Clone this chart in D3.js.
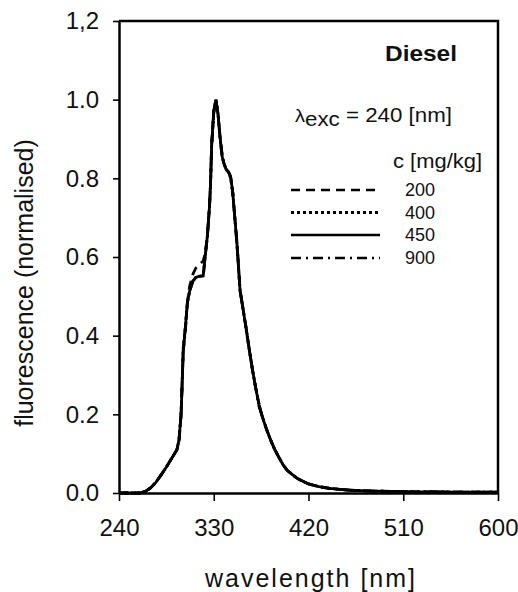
<!DOCTYPE html>
<html>
<head>
<meta charset="utf-8">
<script src="https://cdn.jsdelivr.net/npm/d3@7"></script>
<style>
    body { margin: 0; background: #fff; }
    text { font-family: "Liberation Sans", Arial, sans-serif; fill: #111; }
</style>
</head>
<body>
<script>
// emission spectra, diesel, excitation 240 nm
const wavelength = [240, 250, 260, 265, 270, 275, 280, 285, 290, 295,
    297, 299, 300, 301, 303, 305, 307, 310, 313, 316,
    320, 322, 324, 326, 327, 328, 330, 332, 334, 336,
    338, 340, 342, 344, 346, 348, 350, 352, 355, 358,
    361, 364, 367, 370, 373, 376, 380, 384, 388, 392,
    396, 400, 405, 410, 420, 430, 440, 450, 460, 480,
    500, 520, 540, 560, 580, 600];

const c200 = [0, 0, 0, 0.004, 0.013, 0.027, 0.046, 0.066, 0.088, 0.110,
    0.135, 0.20, 0.28, 0.36, 0.42, 0.485, 0.524, 0.555, 0.572, 0.580,
    0.590, 0.610, 0.655, 0.73, 0.79, 0.885, 0.97, 1.0, 0.965, 0.905,
    0.855, 0.835, 0.822, 0.816, 0.805, 0.765, 0.70, 0.635, 0.515, 0.465,
    0.415, 0.36, 0.31, 0.265, 0.225, 0.195, 0.163, 0.135, 0.11, 0.09,
    0.071, 0.057, 0.046, 0.036, 0.023, 0.016, 0.012, 0.009, 0.007, 0.005,
    0.004, 0.003, 0.003, 0.002, 0.002, 0.002];

const c400 = [0, 0, 0, 0.004, 0.013, 0.027, 0.046, 0.066, 0.088, 0.110,
    0.135, 0.21, 0.28, 0.37, 0.42, 0.485, 0.512, 0.538, 0.548, 0.551,
    0.552, 0.605, 0.655, 0.73, 0.79, 0.88, 0.97, 1.0, 0.965, 0.90,
    0.855, 0.835, 0.822, 0.816, 0.80, 0.765, 0.70, 0.635, 0.515, 0.465,
    0.41, 0.36, 0.31, 0.265, 0.225, 0.195, 0.163, 0.135, 0.11, 0.09,
    0.071, 0.057, 0.046, 0.036, 0.023, 0.016, 0.012, 0.009, 0.007, 0.005,
    0.004, 0.003, 0.003, 0.002, 0.002, 0.002];

const c450 = [0, 0, 0, 0.004, 0.013, 0.027, 0.046, 0.066, 0.088, 0.110,
    0.135, 0.20, 0.28, 0.36, 0.42, 0.485, 0.512, 0.538, 0.548, 0.551,
    0.552, 0.605, 0.655, 0.73, 0.79, 0.885, 0.97, 1.0, 0.965, 0.905,
    0.855, 0.835, 0.822, 0.816, 0.805, 0.765, 0.70, 0.635, 0.515, 0.465,
    0.415, 0.36, 0.31, 0.265, 0.225, 0.195, 0.163, 0.135, 0.11, 0.09,
    0.071, 0.057, 0.046, 0.036, 0.023, 0.016, 0.012, 0.009, 0.007, 0.005,
    0.004, 0.003, 0.003, 0.002, 0.002, 0.002];

const c900 = [0, 0, 0, 0.004, 0.013, 0.027, 0.046, 0.066, 0.088, 0.110,
    0.13, 0.20, 0.28, 0.36, 0.41, 0.485, 0.512, 0.538, 0.548, 0.551,
    0.552, 0.605, 0.655, 0.73, 0.79, 0.885, 0.965, 1.0, 0.965, 0.905,
    0.86, 0.835, 0.822, 0.816, 0.805, 0.765, 0.70, 0.64, 0.515, 0.465,
    0.415, 0.36, 0.31, 0.265, 0.22, 0.195, 0.163, 0.135, 0.11, 0.09,
    0.071, 0.057, 0.046, 0.036, 0.023, 0.016, 0.012, 0.009, 0.007, 0.005,
    0.004, 0.003, 0.003, 0.002, 0.002, 0.002];

const seriesNames = ["200", "400", "450", "900"];
const seriesValues = [c200, c400, c450, c900];
const seriesDash = ["9,6", "3,3", null, "10,5,2,5"];

const xTicks = [240, 330, 420, 510, 600];
const yTicks = [0, 0.2, 0.4, 0.6, 0.8, 1.0, 1.2];
const yTickLabels = ["0.0", "0.2", "0.4", "0.6", "0.8", "1.0", "1,2"];

const svgWidth = 518, svgHeight = 592;
const margin = {top: 21, right: 20, bottom: 99, left: 119};
const w = svgWidth - margin.left - margin.right;
const h = svgHeight - margin.top - margin.bottom;

const svg = d3.select("body")
    .append("svg")
    .attr("width", svgWidth)
    .attr("height", svgHeight);

const g = svg.append("g").attr("transform", `translate(${margin.left},${margin.top})`);

const xScale = d3.scaleLinear().domain([240, 600]).range([0, w]);
const yScale = d3.scaleLinear().domain([0, 1.2]).range([h, 0]);

// curves
const line = d3.line()
    .x((d, i) => xScale(wavelength[i]))
    .y(d => yScale(d));

seriesValues.forEach((vals, k) => {
    g.append("path")
        .datum(vals)
        .attr("d", line)
        .attr("fill", "none")
        .attr("stroke", "#000")
        .attr("stroke-width", 2.8)
        .attr("stroke-dasharray", seriesDash[k]);
});

// frame (top and right)
g.append("path")
    .attr("d", `M0,0H${w}V${h}`)
    .attr("fill", "none")
    .attr("stroke", "#000")
    .attr("stroke-width", 2.5);

const xAxis = g.append("g")
    .attr("transform", `translate(0,${h})`)
    .call(d3.axisBottom(xScale).tickValues(xTicks).tickSize(8).tickSizeOuter(0).tickPadding(18).tickFormat(d3.format("d")));

const yAxis = g.append("g")
    .call(d3.axisLeft(yScale).tickValues(yTicks).tickSize(6).tickSizeOuter(0).tickPadding(14)
        .tickFormat((d, i) => yTickLabels[i]));

[xAxis, yAxis].forEach(ax => {
    ax.select(".domain").attr("stroke", "#000").attr("stroke-width", 2.5);
    ax.selectAll(".tick line").attr("stroke", "#000").attr("stroke-width", 1.6);
    ax.selectAll(".tick text")
        .style("font-family", "'Liberation Sans', Arial, sans-serif")
        .style("font-size", "24px")
        .attr("fill", "#111");
});

// axis titles
svg.append("text")
    .attr("x", 311)
    .attr("y", 587)
    .attr("text-anchor", "middle")
    .style("font-size", "25px")
    .style("letter-spacing", "2px")
    .text("wavelength [nm]");

svg.append("text")
    .attr("transform", "translate(33,283) rotate(-90)")
    .attr("text-anchor", "middle")
    .style("font-size", "25px")
    .text("fluorescence (normalised)");

// annotations
svg.append("text")
    .attr("x", 385)
    .attr("y", 61)
    .attr("textLength", 72)
    .attr("lengthAdjust", "spacingAndGlyphs")
    .style("font-size", "22px")
    .style("font-weight", "bold")
    .text("Diesel");

const lam = svg.append("text")
    .attr("x", 295)
    .attr("y", 122)
    .attr("textLength", 157)
    .attr("lengthAdjust", "spacingAndGlyphs")
    .style("font-size", "20px");
lam.append("tspan").style("font-size", "18px").text("λ");
lam.append("tspan").attr("dy", 4).text("exc");
lam.append("tspan").attr("dy", -4).text(" = 240 [nm]");

svg.append("text")
    .attr("x", 393)
    .attr("y", 168)
    .attr("textLength", 89)
    .attr("lengthAdjust", "spacingAndGlyphs")
    .style("font-size", "20px")
    .text("c [mg/kg]");

// legend
const legendY = [190, 212.5, 235, 258];
seriesNames.forEach((name, k) => {
    svg.append("line")
        .attr("x1", 291).attr("x2", 380)
        .attr("y1", legendY[k]).attr("y2", legendY[k])
        .attr("stroke", "#000")
        .attr("stroke-width", k === 1 ? 3 : 2.4)
        .attr("stroke-dasharray", seriesDash[k]);
    svg.append("text")
        .attr("x", 405)
        .attr("y", legendY[k] + 6)
        .style("font-size", "18px")
        .text(name);
});
</script>
</body>
</html>
